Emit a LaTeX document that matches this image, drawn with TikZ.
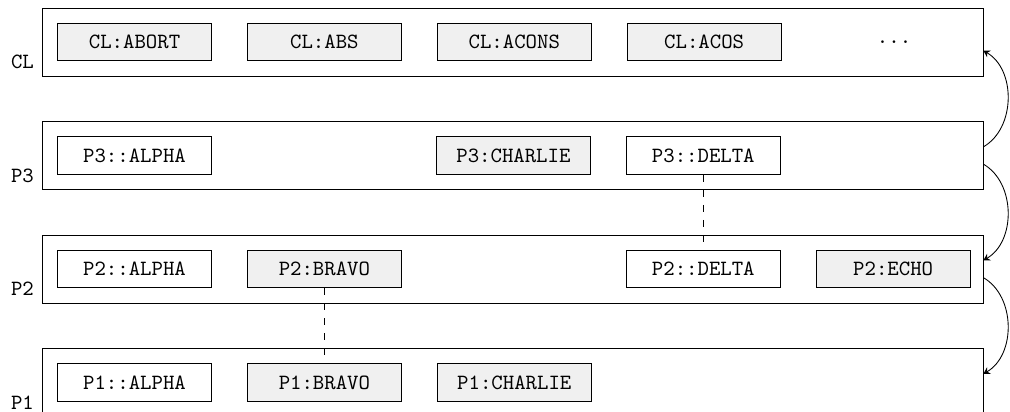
\documentclass[tikz,border=0pt]{standalone}
\usetikzlibrary{positioning,arrows.meta}

\tikzset{
  pkg/.style={draw, minimum width=15.214cm, minimum height=1.1cm,
    inner sep=0pt},
  sym/.style={draw, font=\ttfamily, minimum width=2.49cm,
    minimum height=0.61cm, inner sep=0pt},
  inherited/.style={sym, fill=black!6},
  more/.style={font=\ttfamily, minimum width=2.49cm, inner sep=0pt},
  pkgname/.style={anchor=south east, font=\ttfamily},
  link/.style={dash pattern=on 3.3pt off 3.6pt},
  flow/.style={-{Stealth[length=3pt, width=3.6pt, inset=1pt]}}
}

\begin{document}
\begin{tikzpicture}[node distance=0.566cm]
  \useasboundingbox (0,0) rectangle (16.33,-6.661);

  % packages
  \node[pkg, label={[pkgname]south west:CL}] (cl) at (8.286,-0.679) {};
  \node[pkg, label={[pkgname]south west:P3}] (p3) at (8.286,-2.514) {};
  \node[pkg, label={[pkgname]south west:P2}] (p2) at (8.286,-4.349) {};
  \node[pkg, label={[pkgname]south west:P1}] (p1) at (8.286,-6.184) {};

  % CL
  \node[inherited, right=0.251cm of cl.west] (cl-abort) {CL:ABORT};
  \node[inherited, right=of cl-abort] (cl-abs) {CL:ABS};
  \node[inherited, right=of cl-abs] (cl-acons) {CL:ACONS};
  \node[inherited, right=of cl-acons] (cl-acos) {CL:ACOS};
  \node[more, right=of cl-acos] (cl-more) {...};

  % P3
  \node[sym, right=0.251cm of p3.west] (p3-alpha) {P3::ALPHA};
  \node[inherited, right=3.622cm of p3-alpha] (p3-charlie) {P3:CHARLIE};
  \node[sym, right=of p3-charlie] (p3-delta) {P3::DELTA};

  % P2
  \node[sym, right=0.251cm of p2.west] (p2-alpha) {P2::ALPHA};
  \node[inherited, right=of p2-alpha] (p2-bravo) {P2:BRAVO};
  \node[sym, right=3.622cm of p2-bravo] (p2-delta) {P2::DELTA};
  \node[inherited, right=of p2-delta] (p2-echo) {P2:ECHO};

  % P1
  \node[sym, right=0.251cm of p1.west] (p1-alpha) {P1::ALPHA};
  \node[inherited, right=of p1-alpha] (p1-bravo) {P1:BRAVO};
  \node[inherited, right=of p1-bravo] (p1-charlie) {P1:CHARLIE};

  % shadowing
  \draw[link] (p3-delta) -- (p2-delta);
  \draw[link] (p2-bravo) -- (p1-bravo);

  % lookup order
  \draw[flow] ([yshift=0.14cm]p3.east) to[bend right=60] ([yshift=-0.14cm]cl.east);
  \draw[flow] ([yshift=-0.14cm]p3.east) to[bend left=60] ([yshift=0.14cm]p2.east);
  \draw[flow] ([yshift=-0.14cm]p2.east) to[bend left=60] ([yshift=0.14cm]p1.east);
\end{tikzpicture}
\end{document}
